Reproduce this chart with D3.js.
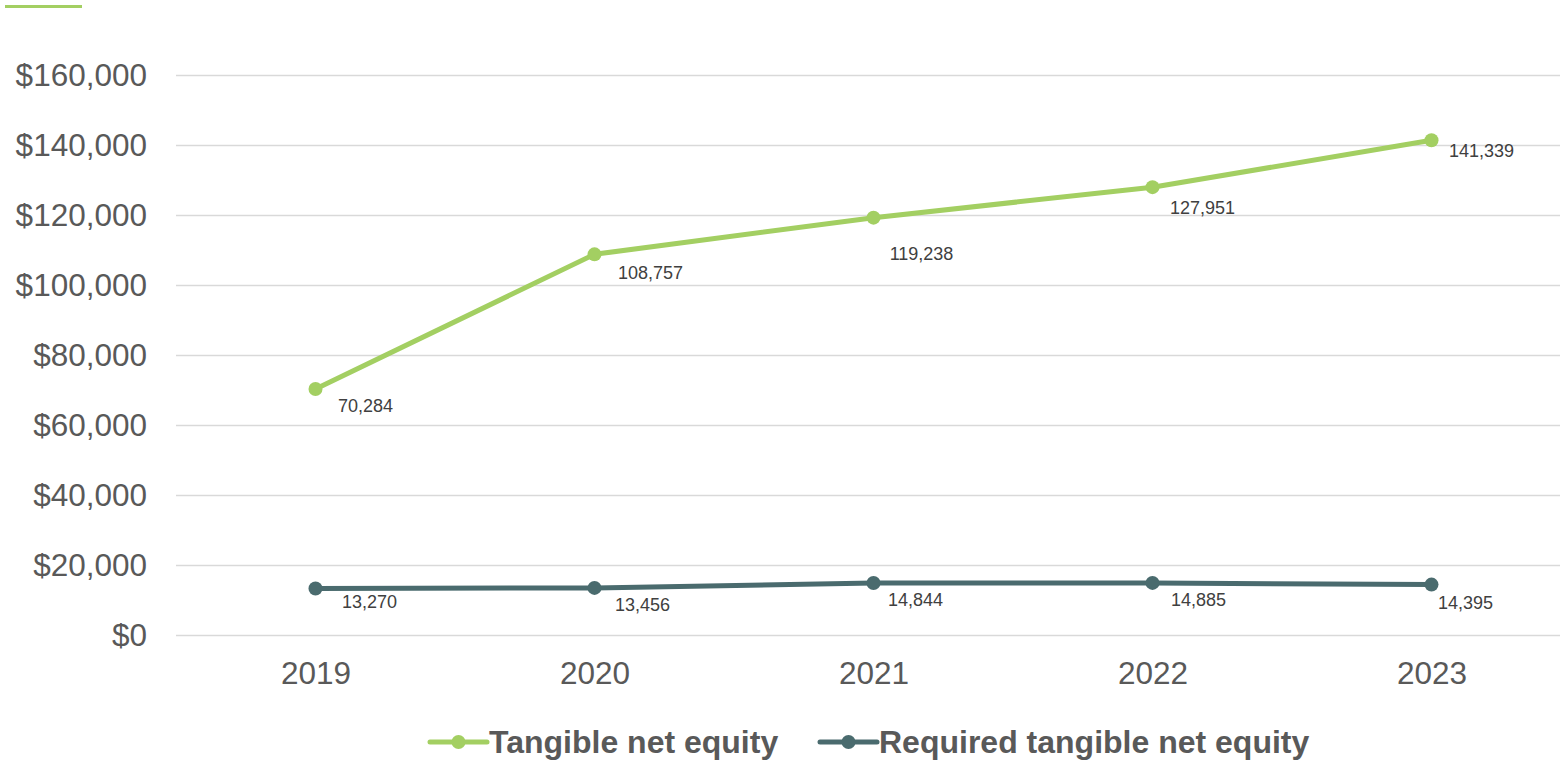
<!DOCTYPE html>
<html>
<head>
<meta charset="utf-8">
<script src="https://cdn.jsdelivr.net/npm/d3@7"></script>
<style>
  html, body { margin: 0; padding: 0; background: #ffffff; }
  svg { display: block; font-family: "Liberation Sans", Arial, sans-serif; }
</style>
</head>
<body>
<svg id="chart" width="1560" height="760"></svg>
<script>
// Years on the category axis
const years = ["2019", "2020", "2021", "2022", "2023"];

// Series values (thousands of dollars)
const tangibleNetEquity = [70284, 108757, 119238, 127951, 141339];
const requiredTangibleNetEquity = [13270, 13456, 14844, 14885, 14395];

// Value axis ticks
const yTicks = [0, 20000, 40000, 60000, 80000, 100000, 120000, 140000, 160000];

// Series names and colours
const seriesNames = ["Tangible net equity", "Required tangible net equity"];
const seriesColors = ["#a3cf62", "#4a6b6e"];

// Per-point label nudges [dx from point to label centre, dy to baseline]
const labelNudgeTangible = [[50, 23], [56, 25], [48, 42], [50, 27], [50, 17]];
const labelNudgeRequired = [[54, 19], [48, 23], [42, 23], [46, 23], [34, 24]];

const W = 1560, H = 760;
const plotLeft = 176, plotRight = 1571, plotTop = 75, plotBottom = 635;

const svg = d3.select("#chart");

// Small accent bar in the top-left corner
svg.append("rect")
  .attr("x", 5).attr("y", 5).attr("width", 77).attr("height", 3)
  .attr("fill", seriesColors[0]);

const x = d3.scalePoint().domain(years).range([plotLeft, plotRight]).padding(0.5);
const y = d3.scaleLinear().domain([0, 160000]).range([plotBottom, plotTop]);

const fmtDollar = v => "$" + d3.format(",")(v);
const fmtNum = d3.format(",");

// Value axis with gridlines
const yAxis = svg.append("g")
  .attr("transform", `translate(${plotLeft},0)`)
  .call(d3.axisLeft(y).tickValues(yTicks).tickFormat(fmtDollar)
    .tickSize(-(W - plotLeft)).tickPadding(29));
yAxis.select(".domain").remove();
yAxis.selectAll(".tick line").attr("stroke", "#d9d9d9").attr("stroke-width", 1.5);
yAxis.selectAll(".tick text")
  .attr("font-size", 31.5).attr("fill", "#595959")
  .attr("font-family", "'Liberation Sans', Arial, sans-serif");

// Category axis
const xAxis = svg.append("g")
  .attr("transform", `translate(0,${plotBottom})`)
  .call(d3.axisBottom(x).tickSize(0).tickPadding(27));
xAxis.select(".domain").remove();
xAxis.selectAll(".tick text")
  .attr("font-size", 31.5).attr("fill", "#595959")
  .attr("font-family", "'Liberation Sans', Arial, sans-serif");

const series = [
  { name: seriesNames[0], values: tangibleNetEquity, color: seriesColors[0], nudge: labelNudgeTangible },
  { name: seriesNames[1], values: requiredTangibleNetEquity, color: seriesColors[1], nudge: labelNudgeRequired }
];

const line = d3.line()
  .x((d, i) => x(years[i]))
  .y(d => y(d));

series.forEach(s => {
  const g = svg.append("g");
  g.append("path")
    .datum(s.values)
    .attr("d", line)
    .attr("fill", "none")
    .attr("stroke", s.color)
    .attr("stroke-width", 5)
    .attr("stroke-linejoin", "round")
    .attr("stroke-linecap", "round");
  g.selectAll("circle")
    .data(s.values)
    .join("circle")
    .attr("cx", (d, i) => x(years[i]))
    .attr("cy", d => y(d))
    .attr("r", 7)
    .attr("fill", s.color);
  g.selectAll("text")
    .data(s.values)
    .join("text")
    .attr("x", (d, i) => x(years[i]) + s.nudge[i][0])
    .attr("y", (d, i) => y(d) + s.nudge[i][1])
    .attr("text-anchor", "middle")
    .attr("font-size", 18)
    .attr("fill", "#404040")
    .text(d => fmtNum(d));
});

// Legend
const legendItems = [
  { name: seriesNames[0], color: seriesColors[0], x: 430 },
  { name: seriesNames[1], color: seriesColors[1], x: 820 }
];
const legendY = 742;
legendItems.forEach(item => {
  const lg = svg.append("g");
  lg.append("line")
    .attr("x1", item.x).attr("x2", item.x + 57)
    .attr("y1", legendY).attr("y2", legendY)
    .attr("stroke", item.color).attr("stroke-width", 5)
    .attr("stroke-linecap", "round");
  lg.append("circle")
    .attr("cx", item.x + 28.5).attr("cy", legendY).attr("r", 7)
    .attr("fill", item.color);
  lg.append("text")
    .attr("x", item.x + 59).attr("y", legendY + 11)
    .attr("font-size", 32).attr("font-weight", "bold")
    .attr("fill", "#595959")
    .text(item.name);
});
</script>
</body>
</html>
